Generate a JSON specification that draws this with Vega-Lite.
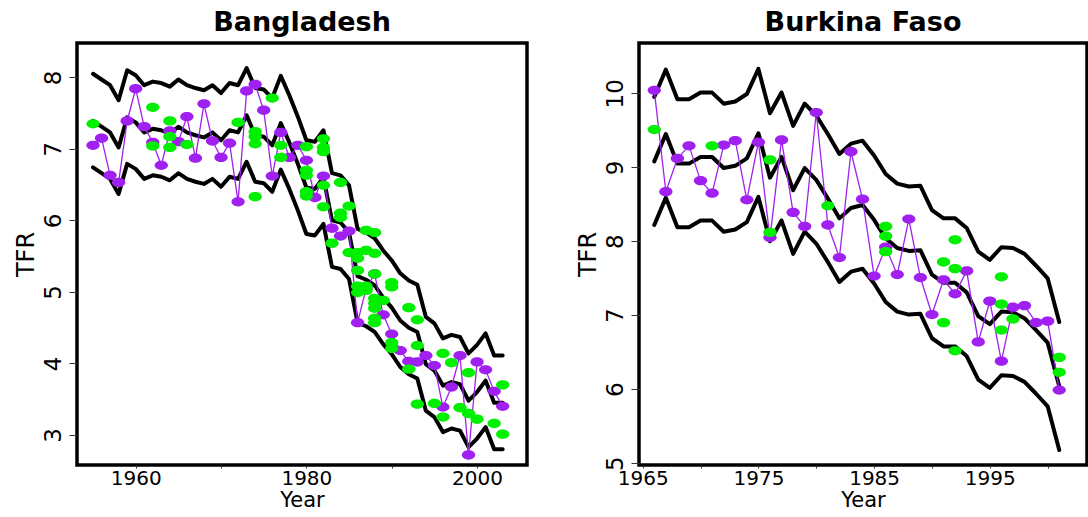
{
  "$schema": "https://vega.github.io/schema/vega-lite/v6.json",
  "background": "white",
  "padding": {"left": 12, "top": 7, "right": 0, "bottom": 0},
  "spacing": 112,
  "bounds": "flush",
  "config": {
    "font": "DejaVu Sans",
    "view": {"stroke": "black", "strokeWidth": 3.5},
    "axis": {
      "grid": false,
      "domain": false,
      "tickColor": "#333333",
      "tickWidth": 1,
      "labelFont": "DejaVu Sans",
      "labelFontSize": 23,
      "labelColor": "black",
      "titleFont": "DejaVu Sans",
      "titleFontSize": 24,
      "titleFontWeight": "normal",
      "titleColor": "black",
      "labelOverlap": false,
      "labelFlush": false
    },
    "axisX": {"tickSize": 3, "labelPadding": 0, "labelFontSize": 20, "titleFontSize": 21, "titlePadding": 1},
    "axisY": {"tickSize": 8, "labelPadding": 4, "labelAngle": -90, "labelAlign": "center", "labelBaseline": "bottom", "titlePadding": 4},
    "title": {"font": "DejaVu Sans", "fontSize": 27, "fontWeight": "bold", "color": "black", "anchor": "middle", "offset": 6},
    "line": {"strokeJoin": "round", "strokeCap": "round"}
  },
  "datasets": {
    "bgd_bands": [
      {"year": 1955, "upper": 8.05, "median": 7.39, "lower": 6.74},
      {"year": 1956, "upper": 7.97, "median": 7.31, "lower": 6.66},
      {"year": 1957, "upper": 7.89, "median": 7.23, "lower": 6.58},
      {"year": 1958, "upper": 7.68, "median": 7.02, "lower": 6.37},
      {"year": 1959, "upper": 8.10, "median": 7.44, "lower": 6.79},
      {"year": 1960, "upper": 8.03, "median": 7.37, "lower": 6.72},
      {"year": 1961, "upper": 7.89, "median": 7.23, "lower": 6.58},
      {"year": 1962, "upper": 7.94, "median": 7.28, "lower": 6.63},
      {"year": 1963, "upper": 7.92, "median": 7.26, "lower": 6.61},
      {"year": 1964, "upper": 7.87, "median": 7.21, "lower": 6.56},
      {"year": 1965, "upper": 7.97, "median": 7.31, "lower": 6.66},
      {"year": 1966, "upper": 7.89, "median": 7.23, "lower": 6.58},
      {"year": 1967, "upper": 7.85, "median": 7.19, "lower": 6.54},
      {"year": 1968, "upper": 7.82, "median": 7.16, "lower": 6.51},
      {"year": 1969, "upper": 7.89, "median": 7.23, "lower": 6.58},
      {"year": 1970, "upper": 7.78, "median": 7.12, "lower": 6.47},
      {"year": 1971, "upper": 7.92, "median": 7.26, "lower": 6.61},
      {"year": 1972, "upper": 7.89, "median": 7.23, "lower": 6.58},
      {"year": 1973, "upper": 8.13, "median": 7.47, "lower": 6.82},
      {"year": 1974, "upper": 7.85, "median": 7.19, "lower": 6.54},
      {"year": 1975, "upper": 7.83, "median": 7.17, "lower": 6.52},
      {"year": 1976, "upper": 7.71, "median": 7.05, "lower": 6.40},
      {"year": 1977, "upper": 8.02, "median": 7.36, "lower": 6.71},
      {"year": 1978, "upper": 7.75, "median": 7.09, "lower": 6.44},
      {"year": 1979, "upper": 7.45, "median": 6.79, "lower": 6.14},
      {"year": 1980, "upper": 7.12, "median": 6.46, "lower": 5.81},
      {"year": 1981, "upper": 7.10, "median": 6.44, "lower": 5.79},
      {"year": 1982, "upper": 7.26, "median": 6.60, "lower": 5.95},
      {"year": 1983, "upper": 6.66, "median": 6.00, "lower": 5.35},
      {"year": 1984, "upper": 6.63, "median": 5.97, "lower": 5.32},
      {"year": 1985, "upper": 6.49, "median": 5.83, "lower": 5.18},
      {"year": 1986, "upper": 5.88, "median": 5.22, "lower": 4.57},
      {"year": 1987, "upper": 5.83, "median": 5.17, "lower": 4.52},
      {"year": 1988, "upper": 5.75, "median": 5.09, "lower": 4.44},
      {"year": 1989, "upper": 5.58, "median": 4.92, "lower": 4.27},
      {"year": 1990, "upper": 5.44, "median": 4.78, "lower": 4.13},
      {"year": 1991, "upper": 5.26, "median": 4.60, "lower": 3.95},
      {"year": 1992, "upper": 5.16, "median": 4.50, "lower": 3.85},
      {"year": 1993, "upper": 5.10, "median": 4.44, "lower": 3.79},
      {"year": 1994, "upper": 4.65, "median": 3.99, "lower": 3.34},
      {"year": 1995, "upper": 4.56, "median": 3.90, "lower": 3.25},
      {"year": 1996, "upper": 4.35, "median": 3.69, "lower": 3.04},
      {"year": 1997, "upper": 4.40, "median": 3.74, "lower": 3.09},
      {"year": 1998, "upper": 4.37, "median": 3.71, "lower": 3.06},
      {"year": 1999, "upper": 4.14, "median": 3.48, "lower": 2.83},
      {"year": 2000, "upper": 4.26, "median": 3.60, "lower": 2.95},
      {"year": 2001, "upper": 4.42, "median": 3.76, "lower": 3.11},
      {"year": 2002, "upper": 4.11, "median": 3.45, "lower": 2.80},
      {"year": 2003, "upper": 4.11, "median": 3.45, "lower": 2.80}
    ],
    "bgd_obs": [
      {"year": 1955, "tfr": 7.05}, {"year": 1956, "tfr": 7.15}, {"year": 1957, "tfr": 6.63},
      {"year": 1958, "tfr": 6.53}, {"year": 1959, "tfr": 7.39}, {"year": 1960, "tfr": 7.84},
      {"year": 1961, "tfr": 7.31}, {"year": 1962, "tfr": 7.09}, {"year": 1963, "tfr": 6.77},
      {"year": 1964, "tfr": 7.25}, {"year": 1965, "tfr": 7.10}, {"year": 1966, "tfr": 7.45},
      {"year": 1967, "tfr": 6.87}, {"year": 1968, "tfr": 7.63}, {"year": 1969, "tfr": 7.11},
      {"year": 1970, "tfr": 6.88}, {"year": 1971, "tfr": 7.08}, {"year": 1972, "tfr": 6.26},
      {"year": 1973, "tfr": 7.81}, {"year": 1974, "tfr": 7.90}, {"year": 1975, "tfr": 7.54},
      {"year": 1976, "tfr": 6.62}, {"year": 1977, "tfr": 7.23}, {"year": 1978, "tfr": 6.88},
      {"year": 1979, "tfr": 7.05}, {"year": 1980, "tfr": 6.84}, {"year": 1981, "tfr": 6.32},
      {"year": 1982, "tfr": 6.62}, {"year": 1983, "tfr": 5.89}, {"year": 1984, "tfr": 5.78},
      {"year": 1985, "tfr": 5.85}, {"year": 1986, "tfr": 4.57}, {"year": 1987, "tfr": 5.05},
      {"year": 1988, "tfr": 5.25}, {"year": 1989, "tfr": 4.68}, {"year": 1990, "tfr": 4.41},
      {"year": 1991, "tfr": 4.18}, {"year": 1992, "tfr": 4.03}, {"year": 1993, "tfr": 4.02},
      {"year": 1994, "tfr": 4.11}, {"year": 1995, "tfr": 3.97}, {"year": 1996, "tfr": 3.39},
      {"year": 1997, "tfr": 3.67}, {"year": 1998, "tfr": 4.11}, {"year": 1999, "tfr": 2.72},
      {"year": 2000, "tfr": 4.02}, {"year": 2001, "tfr": 3.91}, {"year": 2002, "tfr": 3.61},
      {"year": 2003, "tfr": 3.40}
    ],
    "bgd_pts": [
      {"year": 1955, "tfr": 7.35},
      {"year": 1962, "tfr": 7.58}, {"year": 1962, "tfr": 7.04},
      {"year": 1964, "tfr": 7.39}, {"year": 1964, "tfr": 7.17}, {"year": 1964, "tfr": 7.02},
      {"year": 1966, "tfr": 7.06},
      {"year": 1972, "tfr": 7.37},
      {"year": 1974, "tfr": 7.24}, {"year": 1974, "tfr": 7.17}, {"year": 1974, "tfr": 7.07}, {"year": 1974, "tfr": 6.33},
      {"year": 1976, "tfr": 7.71},
      {"year": 1977, "tfr": 7.05}, {"year": 1977, "tfr": 6.88},
      {"year": 1980, "tfr": 7.03}, {"year": 1980, "tfr": 6.70}, {"year": 1980, "tfr": 6.63}, {"year": 1980, "tfr": 6.40}, {"year": 1980, "tfr": 6.34},
      {"year": 1982, "tfr": 7.14}, {"year": 1982, "tfr": 7.02}, {"year": 1982, "tfr": 6.96}, {"year": 1982, "tfr": 6.49}, {"year": 1982, "tfr": 6.19},
      {"year": 1983, "tfr": 5.68},
      {"year": 1984, "tfr": 6.53}, {"year": 1984, "tfr": 6.10}, {"year": 1984, "tfr": 6.04},
      {"year": 1985, "tfr": 6.20}, {"year": 1985, "tfr": 5.55},
      {"year": 1986, "tfr": 5.55}, {"year": 1986, "tfr": 5.47}, {"year": 1986, "tfr": 5.30}, {"year": 1986, "tfr": 5.08}, {"year": 1986, "tfr": 4.99},
      {"year": 1987, "tfr": 5.86}, {"year": 1987, "tfr": 5.58}, {"year": 1987, "tfr": 5.08}, {"year": 1987, "tfr": 5.02},
      {"year": 1988, "tfr": 5.83}, {"year": 1988, "tfr": 5.54}, {"year": 1988, "tfr": 5.25}, {"year": 1988, "tfr": 4.91},
      {"year": 1988, "tfr": 4.84}, {"year": 1988, "tfr": 4.77}, {"year": 1988, "tfr": 4.63}, {"year": 1988, "tfr": 4.57},
      {"year": 1989, "tfr": 4.88},
      {"year": 1990, "tfr": 5.13}, {"year": 1990, "tfr": 5.07}, {"year": 1990, "tfr": 4.29}, {"year": 1990, "tfr": 4.21},
      {"year": 1992, "tfr": 4.78}, {"year": 1992, "tfr": 3.92},
      {"year": 1993, "tfr": 4.61}, {"year": 1993, "tfr": 4.25}, {"year": 1993, "tfr": 3.43},
      {"year": 1995, "tfr": 3.44},
      {"year": 1996, "tfr": 4.14}, {"year": 1996, "tfr": 3.25},
      {"year": 1997, "tfr": 4.01},
      {"year": 1998, "tfr": 3.38},
      {"year": 1999, "tfr": 3.87}, {"year": 1999, "tfr": 3.30},
      {"year": 2000, "tfr": 3.22},
      {"year": 2002, "tfr": 3.16},
      {"year": 2003, "tfr": 3.70}, {"year": 2003, "tfr": 3.01}
    ],
    "bfa_bands": [
      {"year": 1966, "upper": 9.95, "median": 9.08, "lower": 8.22},
      {"year": 1967, "upper": 10.32, "median": 9.45, "lower": 8.59},
      {"year": 1968, "upper": 9.92, "median": 9.05, "lower": 8.19},
      {"year": 1969, "upper": 9.92, "median": 9.05, "lower": 8.19},
      {"year": 1970, "upper": 10.01, "median": 9.14, "lower": 8.28},
      {"year": 1971, "upper": 10.01, "median": 9.14, "lower": 8.28},
      {"year": 1972, "upper": 9.86, "median": 8.99, "lower": 8.13},
      {"year": 1973, "upper": 9.89, "median": 9.02, "lower": 8.16},
      {"year": 1974, "upper": 9.99, "median": 9.12, "lower": 8.26},
      {"year": 1975, "upper": 10.33, "median": 9.46, "lower": 8.60},
      {"year": 1976, "upper": 9.73, "median": 8.86, "lower": 8.00},
      {"year": 1977, "upper": 10.01, "median": 9.14, "lower": 8.28},
      {"year": 1978, "upper": 9.56, "median": 8.69, "lower": 7.83},
      {"year": 1979, "upper": 9.86, "median": 8.99, "lower": 8.13},
      {"year": 1980, "upper": 9.70, "median": 8.83, "lower": 7.97},
      {"year": 1981, "upper": 9.45, "median": 8.58, "lower": 7.72},
      {"year": 1982, "upper": 9.18, "median": 8.31, "lower": 7.45},
      {"year": 1983, "upper": 9.32, "median": 8.45, "lower": 7.59},
      {"year": 1984, "upper": 9.36, "median": 8.49, "lower": 7.63},
      {"year": 1985, "upper": 9.16, "median": 8.29, "lower": 7.43},
      {"year": 1986, "upper": 8.91, "median": 8.04, "lower": 7.18},
      {"year": 1987, "upper": 8.78, "median": 7.91, "lower": 7.05},
      {"year": 1988, "upper": 8.74, "median": 7.87, "lower": 7.01},
      {"year": 1989, "upper": 8.75, "median": 7.88, "lower": 7.02},
      {"year": 1990, "upper": 8.42, "median": 7.55, "lower": 6.69},
      {"year": 1991, "upper": 8.31, "median": 7.44, "lower": 6.58},
      {"year": 1992, "upper": 8.31, "median": 7.44, "lower": 6.58},
      {"year": 1993, "upper": 8.18, "median": 7.31, "lower": 6.45},
      {"year": 1994, "upper": 7.86, "median": 6.99, "lower": 6.13},
      {"year": 1995, "upper": 7.75, "median": 6.88, "lower": 6.02},
      {"year": 1996, "upper": 7.92, "median": 7.05, "lower": 6.19},
      {"year": 1997, "upper": 7.91, "median": 7.04, "lower": 6.18},
      {"year": 1998, "upper": 7.83, "median": 6.96, "lower": 6.10},
      {"year": 1999, "upper": 7.67, "median": 6.80, "lower": 5.94},
      {"year": 2000, "upper": 7.50, "median": 6.63, "lower": 5.77},
      {"year": 2001, "upper": 6.91, "median": 6.04, "lower": 5.18}
    ],
    "bfa_obs": [
      {"year": 1966, "tfr": 10.04}, {"year": 1967, "tfr": 8.67}, {"year": 1968, "tfr": 9.12},
      {"year": 1969, "tfr": 9.29}, {"year": 1970, "tfr": 8.82}, {"year": 1971, "tfr": 8.65},
      {"year": 1972, "tfr": 9.30}, {"year": 1973, "tfr": 9.36}, {"year": 1974, "tfr": 8.56},
      {"year": 1975, "tfr": 9.34}, {"year": 1976, "tfr": 8.05}, {"year": 1977, "tfr": 9.37},
      {"year": 1978, "tfr": 8.39}, {"year": 1979, "tfr": 8.20}, {"year": 1980, "tfr": 9.74},
      {"year": 1981, "tfr": 8.22}, {"year": 1982, "tfr": 7.78}, {"year": 1983, "tfr": 9.21},
      {"year": 1984, "tfr": 8.57}, {"year": 1985, "tfr": 7.53}, {"year": 1986, "tfr": 7.92},
      {"year": 1987, "tfr": 7.55}, {"year": 1988, "tfr": 8.30}, {"year": 1989, "tfr": 7.51},
      {"year": 1990, "tfr": 7.01}, {"year": 1991, "tfr": 7.48}, {"year": 1992, "tfr": 7.29},
      {"year": 1993, "tfr": 7.60}, {"year": 1994, "tfr": 6.64}, {"year": 1995, "tfr": 7.19},
      {"year": 1996, "tfr": 6.38}, {"year": 1997, "tfr": 7.11}, {"year": 1998, "tfr": 7.13},
      {"year": 1999, "tfr": 6.90}, {"year": 2000, "tfr": 6.92}, {"year": 2001, "tfr": 5.99}
    ],
    "bfa_pts": [
      {"year": 1966, "tfr": 9.51},
      {"year": 1971, "tfr": 9.29},
      {"year": 1976, "tfr": 9.10}, {"year": 1976, "tfr": 8.12},
      {"year": 1981, "tfr": 8.48},
      {"year": 1986, "tfr": 8.20}, {"year": 1986, "tfr": 8.07}, {"year": 1986, "tfr": 7.86},
      {"year": 1991, "tfr": 7.72}, {"year": 1991, "tfr": 6.90},
      {"year": 1992, "tfr": 8.02}, {"year": 1992, "tfr": 7.63}, {"year": 1992, "tfr": 6.52},
      {"year": 1996, "tfr": 7.52}, {"year": 1996, "tfr": 7.15}, {"year": 1996, "tfr": 6.80},
      {"year": 1997, "tfr": 6.95},
      {"year": 2001, "tfr": 6.43}, {"year": 2001, "tfr": 6.23}
    ]
  },
  "hconcat": [
    {
      "title": "Bangladesh",
      "width": 450,
      "height": 422,
      "encoding": {
        "x": {
          "field": "year", "type": "quantitative", "title": "Year",
          "scale": {"domain": [1953.125, 2005.85], "nice": false, "zero": false},
          "axis": {"values": [1960, 1970, 1980, 1990, 2000], "format": "d", "labelExpr": "datum.value % 20 == 0 ? datum.label : ''"}
        }
      },
      "layer": [
        {
          "data": {"name": "bgd_bands"},
          "layer": [
            {
              "mark": {"type": "line", "color": "black", "strokeWidth": 4},
              "encoding": {"y": {"field": "upper", "type": "quantitative", "title": "TFR",
                "scale": {"domain": [2.58, 8.48], "nice": false, "zero": false},
                "axis": {"values": [3, 4, 5, 6, 7, 8], "format": "d"}}}
            },
            {
              "mark": {"type": "line", "color": "black", "strokeWidth": 4},
              "encoding": {"y": {"field": "median", "type": "quantitative", "title": "TFR"}}
            },
            {
              "mark": {"type": "line", "color": "black", "strokeWidth": 4},
              "encoding": {"y": {"field": "lower", "type": "quantitative", "title": "TFR"}}
            }
          ]
        },
        {
          "data": {"name": "bgd_obs"},
          "encoding": {"y": {"field": "tfr", "type": "quantitative", "title": "TFR"}},
          "layer": [
            {"mark": {"type": "line", "color": "#A020F0", "strokeWidth": 1.3}},
            {"mark": {"type": "point", "filled": true, "opacity": 1, "color": "#A020F0", "size": 177,
              "shape": "M -1 0 C -1 -0.3866 -0.5523 -0.7 0 -0.7 C 0.5523 -0.7 1 -0.3866 1 0 C 1 0.3866 0.5523 0.7 0 0.7 C -0.5523 0.7 -1 0.3866 -1 0 Z"}}
          ]
        },
        {
          "data": {"name": "bgd_pts"},
          "mark": {"type": "point", "filled": true, "opacity": 1, "color": "#00F000", "size": 177,
            "shape": "M -1 0 C -1 -0.3866 -0.5523 -0.7 0 -0.7 C 0.5523 -0.7 1 -0.3866 1 0 C 1 0.3866 0.5523 0.7 0 0.7 C -0.5523 0.7 -1 0.3866 -1 0 Z"},
          "encoding": {"y": {"field": "tfr", "type": "quantitative", "title": "TFR"}}
        }
      ]
    },
    {
      "title": "Burkina Faso",
      "width": 448,
      "height": 422,
      "encoding": {
        "x": {
          "field": "year", "type": "quantitative", "title": "Year",
          "scale": {"domain": [1964.68, 2003.4], "nice": false, "zero": false},
          "axis": {"values": [1965, 1970, 1975, 1980, 1985, 1990, 1995, 2000], "format": "d", "labelExpr": "datum.value % 10 == 5 ? datum.label : ''"}
        }
      },
      "layer": [
        {
          "data": {"name": "bfa_bands"},
          "layer": [
            {
              "mark": {"type": "line", "color": "black", "strokeWidth": 4},
              "encoding": {"y": {"field": "upper", "type": "quantitative", "title": "TFR",
                "scale": {"domain": [4.977, 10.68], "nice": false, "zero": false},
                "axis": {"values": [5, 6, 7, 8, 9, 10], "format": "d"}}}
            },
            {
              "mark": {"type": "line", "color": "black", "strokeWidth": 4},
              "encoding": {"y": {"field": "median", "type": "quantitative", "title": "TFR"}}
            },
            {
              "mark": {"type": "line", "color": "black", "strokeWidth": 4},
              "encoding": {"y": {"field": "lower", "type": "quantitative", "title": "TFR"}}
            }
          ]
        },
        {
          "data": {"name": "bfa_obs"},
          "encoding": {"y": {"field": "tfr", "type": "quantitative", "title": "TFR"}},
          "layer": [
            {"mark": {"type": "line", "color": "#A020F0", "strokeWidth": 1.3}},
            {"mark": {"type": "point", "filled": true, "opacity": 1, "color": "#A020F0", "size": 177,
              "shape": "M -1 0 C -1 -0.3866 -0.5523 -0.7 0 -0.7 C 0.5523 -0.7 1 -0.3866 1 0 C 1 0.3866 0.5523 0.7 0 0.7 C -0.5523 0.7 -1 0.3866 -1 0 Z"}}
          ]
        },
        {
          "data": {"name": "bfa_pts"},
          "mark": {"type": "point", "filled": true, "opacity": 1, "color": "#00F000", "size": 177,
            "shape": "M -1 0 C -1 -0.3866 -0.5523 -0.7 0 -0.7 C 0.5523 -0.7 1 -0.3866 1 0 C 1 0.3866 0.5523 0.7 0 0.7 C -0.5523 0.7 -1 0.3866 -1 0 Z"},
          "encoding": {"y": {"field": "tfr", "type": "quantitative", "title": "TFR"}}
        }
      ]
    }
  ]
}
